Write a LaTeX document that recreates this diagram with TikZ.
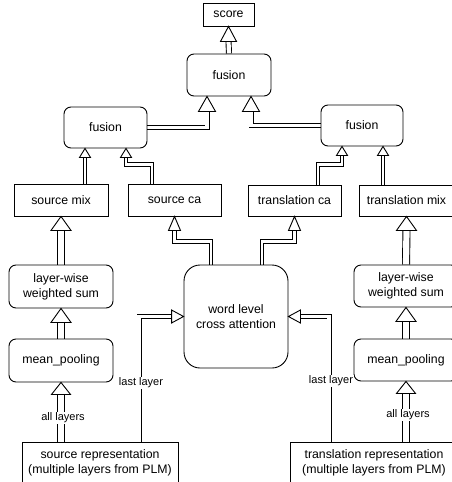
\documentclass[tikz,border=0pt]{standalone}
\usepackage{fontspec}
\setmainfont{Liberation Sans}
\usetikzlibrary{calc,backgrounds}
\newcommand\hup[3]{\draw[headst] (#1) -- ++({#2/2},#3) -- ++({-#2},0) -- cycle;}
\newcommand\hright[3]{\draw[headst] (#1) -- ++({-#3},{-#2/2}) -- ++(0,#2) -- cycle;}
\newcommand\hleft[3]{\draw[headst] (#1) -- ++(#3,{-#2/2}) -- ++(0,#2) -- cycle;}
\begin{document}
\begin{tikzpicture}[x=1pt,y=-1pt,
  every node/.style={font=\fontsize{12.3}{15}\selectfont, text=black, align=center, inner sep=2pt},
  box/.style={draw=black, line width=0.9pt},
  rbox/.style={box, rounded corners=7pt},
  shaft/.style={draw=black, line width=0.9pt, double=white, double distance=#1, line join=miter},
  headst/.style={draw=black, fill=white, line width=0.9pt, line join=miter},
  lbl/.style={fill=white, font=\fontsize{11}{13}\selectfont, inner sep=1pt}]
\useasboundingbox (0,0) rectangle (452,482);
\clip (0,0) rectangle (452,482);

% nodes
\node[box, minimum width=51pt, minimum height=23pt] (score) at (228.5,14.5) {score};
\node[rbox, minimum width=84pt, minimum height=42pt] (fusT) at (229,75) {fusion};
\node[rbox, minimum width=83pt, minimum height=41pt] (fusL) at (105.5,127.5) {fusion};
\node[rbox, minimum width=82pt, minimum height=41pt] (fusR) at (362,125.5) {fusion};
\node[box, minimum width=94pt, minimum height=32pt] (smix) at (61,200) {source mix};
\node[box, minimum width=93pt, minimum height=32pt] (sca) at (174.5,200) {source ca};
\node[box, minimum width=93pt, minimum height=31pt] (tca) at (294.5,200.5) {translation ca};
\node[box, minimum width=95pt, minimum height=31pt] (tmix) at (406.5,200.5) {translation mix};
\node[rbox, minimum width=104pt, minimum height=43pt] (lwL) at (61,286.5) {layer-wise\\weighted sum};
\node[rbox, minimum width=104pt, minimum height=43pt] (mpL) at (61,360.5) {mean\_pooling};
\node[rbox, minimum width=104pt, minimum height=42pt] (lwR) at (406,286) {layer-wise\\weighted sum};
\node[rbox, minimum width=104pt, minimum height=42pt] (mpR) at (406,360) {mean\_pooling};
\node[box, rounded corners=16pt, minimum width=104pt, minimum height=103pt] (wl) at (236,316.5) {word level\\cross attention};
\node[box, minimum width=156pt, minimum height=41pt] (srep) at (100,462.5) {source representation\\(multiple layers from PLM)};
\node[box, minimum width=168pt, minimum height=41pt] (trep) at (374,462.5) {translation representation\\(multiple layers from PLM)};

% tip coordinates
\coordinate (t2) at ($(fusT.south)+(-22,0)$);
\coordinate (t3) at ($(fusT.south)+(22,0)$);
\coordinate (s4) at ($(smix.north)+(24,0)$);
\coordinate (t4) at (s4 |- fusL.south);
\coordinate (s5) at ($(sca.north)+(-22.5,0)$);
\coordinate (t5) at ($(fusL.south)+(20.5,0)$);
\coordinate (s6) at ($(tca.north)+(23.5,0)$);
\coordinate (t6) at ($(fusR.south)+(-20,0)$);
\coordinate (s7) at ($(tmix.north)+(-23.5,0)$);
\coordinate (t7) at (s7 |- fusR.south);
\coordinate (s11) at ($(srep.north)+(39,0)$);
\coordinate (s12) at ($(wl.north)+(-25,0)$);
\coordinate (s13) at ($(wl.north)+(26,0)$);
\coordinate (s14) at ($(trep.north)+(-45,0)$);

\begin{scope}[on background layer]
% fusion -> score
\draw[shaft=4.2] (fusT.north) -- ($(score.south)+(0,15)$);
\hup{score.south}{16}{15}
% fusion L/R -> fusion top
\draw[shaft=3.2] (fusL.east) -- (fusL.east -| t2) -- ($(t2)+(0,15)$);
\hup{t2}{17}{15}
\draw[shaft=3.2] (fusR.west) -- (fusR.west -| t3) -- ($(t3)+(0,15)$);
\hup{t3}{17}{15}
% mix / ca -> fusion
\draw[shaft=2.5] (s4) -- ($(t4)+(0,9)$);
\hup{t4}{11}{9}
\draw[shaft=2.5] (s5) |- ($(t5)+(0,16)$) -- ($(t5)+(0,9)$);
\hup{t5}{11}{9}
\draw[shaft=2.5] (s6) |- ($(t6)+(0,18)$) -- ($(t6)+(0,9)$);
\hup{t6}{11}{9}
\draw[shaft=2.5] (s7) -- ($(t7)+(0,9)$);
\hup{t7}{11}{9}
% word level -> ca
\draw[shaft=2.5] (s12) |- ($(sca.south)+(0,25)$) -- ($(sca.south)+(0,14)$);
\hup{sca.south}{12}{14}
\draw[shaft=2.5] (s13) |- ($(tca.south)+(0,25)$) -- ($(tca.south)+(0,14)$);
\hup{tca.south}{12}{14}
% left column
\draw[shaft=6.2] (lwL.north) -- ($(smix.south)+(0,14)$);
\hup{smix.south}{20}{14}
\draw[shaft=6.2] (mpL.north) -- ($(lwL.south)+(0,14)$);
\hup{lwL.south}{20}{14}
\draw[shaft=5.8] (mpL.south |- srep.north) -- ($(mpL.south)+(0,12)$);
\hup{mpL.south}{19}{12}
% right column
\draw[shaft=6.2] (lwR.north) -- ($(tmix.south)+(0,14)$);
\hup{tmix.south}{20}{14}
\draw[shaft=6.2] (mpR.north) -- ($(lwR.south)+(0,14)$);
\hup{lwR.south}{20}{14}
\draw[shaft=5.8] (mpR.south |- trep.north) -- ($(mpR.south)+(0,12)$);
\hup{mpR.south}{19}{12}
% last layer -> word level
\draw[shaft=3.2] (s11) |- ($(wl.west)+(-12,0)$);
\hright{wl.west}{13}{12}
\draw[shaft=3.2] (s14) |- ($(wl.east)+(12,0)$);
\hleft{wl.east}{13}{12}
\end{scope}

% labels
\node[lbl] (lalL) at (63,418) {all layers};
\node[lbl] (lalR) at (408,415) {all layers};
\node[lbl] (lllL) at (141,383) {last layer};
\node[lbl] (lllR) at (331,381) {last layer};
\end{tikzpicture}
\end{document}
